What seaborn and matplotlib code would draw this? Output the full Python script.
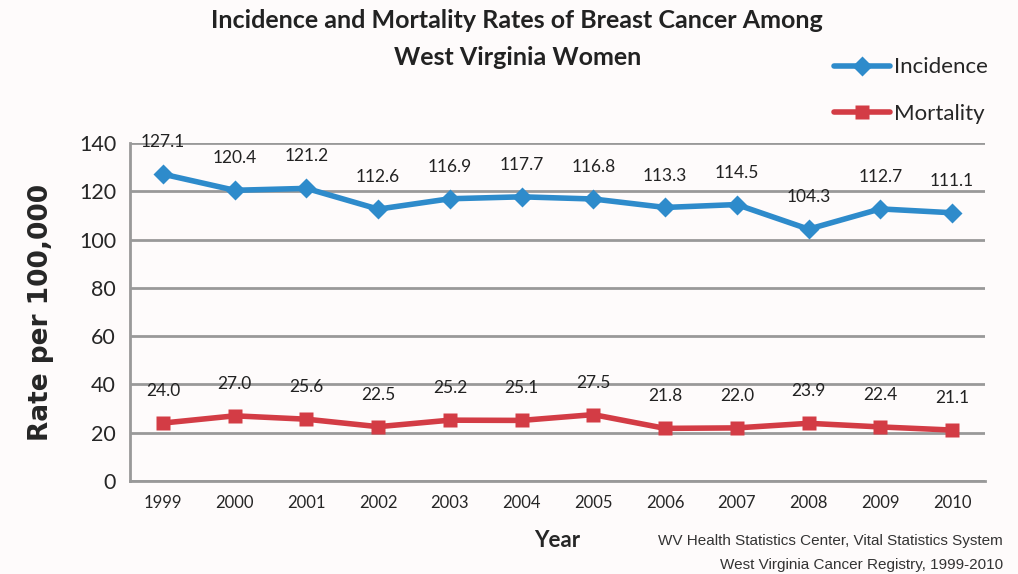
import matplotlib
matplotlib.use("Agg")
import matplotlib.pyplot as plt
import seaborn as sns
import pandas as pd

# Data
years = ["1999", "2000", "2001", "2002", "2003", "2004", "2005", "2006", "2007", "2008", "2009", "2010"]
incidence = [127.1, 120.4, 121.2, 112.6, 116.9, 117.7, 116.8, 113.3, 114.5, 104.3, 112.7, 111.1]
mortality = [24.0, 27.0, 25.6, 22.5, 25.2, 25.1, 27.5, 21.8, 22.0, 23.9, 22.4, 21.1]
y_ticks = [0, 20, 40, 60, 80, 100, 120, 140]

blue = "#2E8BCB"
red = "#D33C45"
bg = "#FEFBFB"

sns.set_style("white")
plt.rcParams["font.family"] = ["Lato", "DejaVu Sans"]

df = pd.DataFrame({"Year": years * 2,
                   "Rate": incidence + mortality,
                   "Series": ["Incidence"] * len(years) + ["Mortality"] * len(years)})

fig = plt.figure(figsize=(10.18, 5.74), dpi=100, facecolor=bg)
ax = fig.add_axes([0.1277, 0.162, 0.8399, 0.5889])
ax.set_facecolor(bg)

sns.lineplot(data=df, x="Year", y="Rate", hue="Series", style="Series",
             markers={"Incidence": "D", "Mortality": "s"}, dashes=False,
             palette={"Incidence": blue, "Mortality": red},
             linewidth=4, markersize=10, markeredgecolor="none", ax=ax)

# data labels above the points
for i, (a, b) in enumerate(zip(incidence, mortality)):
    ax.annotate(f"{a:.1f}", (i, a), xytext=(0, 23), textcoords="offset points",
                ha="center", va="center", fontsize=12.5, color="#222222")
    ax.annotate(f"{b:.1f}", (i, b), xytext=(0, 23), textcoords="offset points",
                ha="center", va="center", fontsize=12.5, color="#222222")

ax.set_xlim(-0.46, len(years) - 0.54)
ax.set_ylim(0, 140)
ax.set_yticks(y_ticks)
ax.tick_params(axis="y", labelsize=15.5, length=6, color="#999999", width=2, pad=4)
ax.tick_params(axis="x", labelsize=12, length=0, pad=10)
ax.yaxis.grid(True, color="#999999", linewidth=2)
ax.set_axisbelow(True)
for s in ["top", "right"]:
    ax.spines[s].set_visible(False)
for s in ["left", "bottom"]:
    ax.spines[s].set_color("#999999")
    ax.spines[s].set_linewidth(2)

ax.set_xlabel("Year", fontsize=16, fontweight="bold", labelpad=14)
ax.set_ylabel("Rate per 100,000", fontsize=19, fontweight="bold",
              family=["DejaVu Sans"], labelpad=18)

fig.text(0.508, 0.985, "Incidence and Mortality Rates of Breast Cancer Among\nWest Virginia Women",
         ha="center", va="top", fontsize=18, fontweight="bold", linespacing=1.75, color="#222222")

handles, labels = ax.get_legend_handles_labels()
leg = ax.legend(handles, labels, loc="upper left", bbox_to_anchor=(0.8, 0.935),
                bbox_transform=fig.transFigure, frameon=False, fontsize=16,
                handlelength=2.5, handletextpad=0.2, labelspacing=1.2)

fig.text(0.985, 0.058, "WV Health Statistics Center, Vital Statistics System",
         ha="right", va="center", fontsize=11, family=["Liberation Sans"], color="#333333")
fig.text(0.985, 0.016, "West Virginia Cancer Registry, 1999-2010",
         ha="right", va="center", fontsize=11, family=["Liberation Sans"], color="#333333")

fig.savefig("out.png", dpi=100, facecolor=bg)
